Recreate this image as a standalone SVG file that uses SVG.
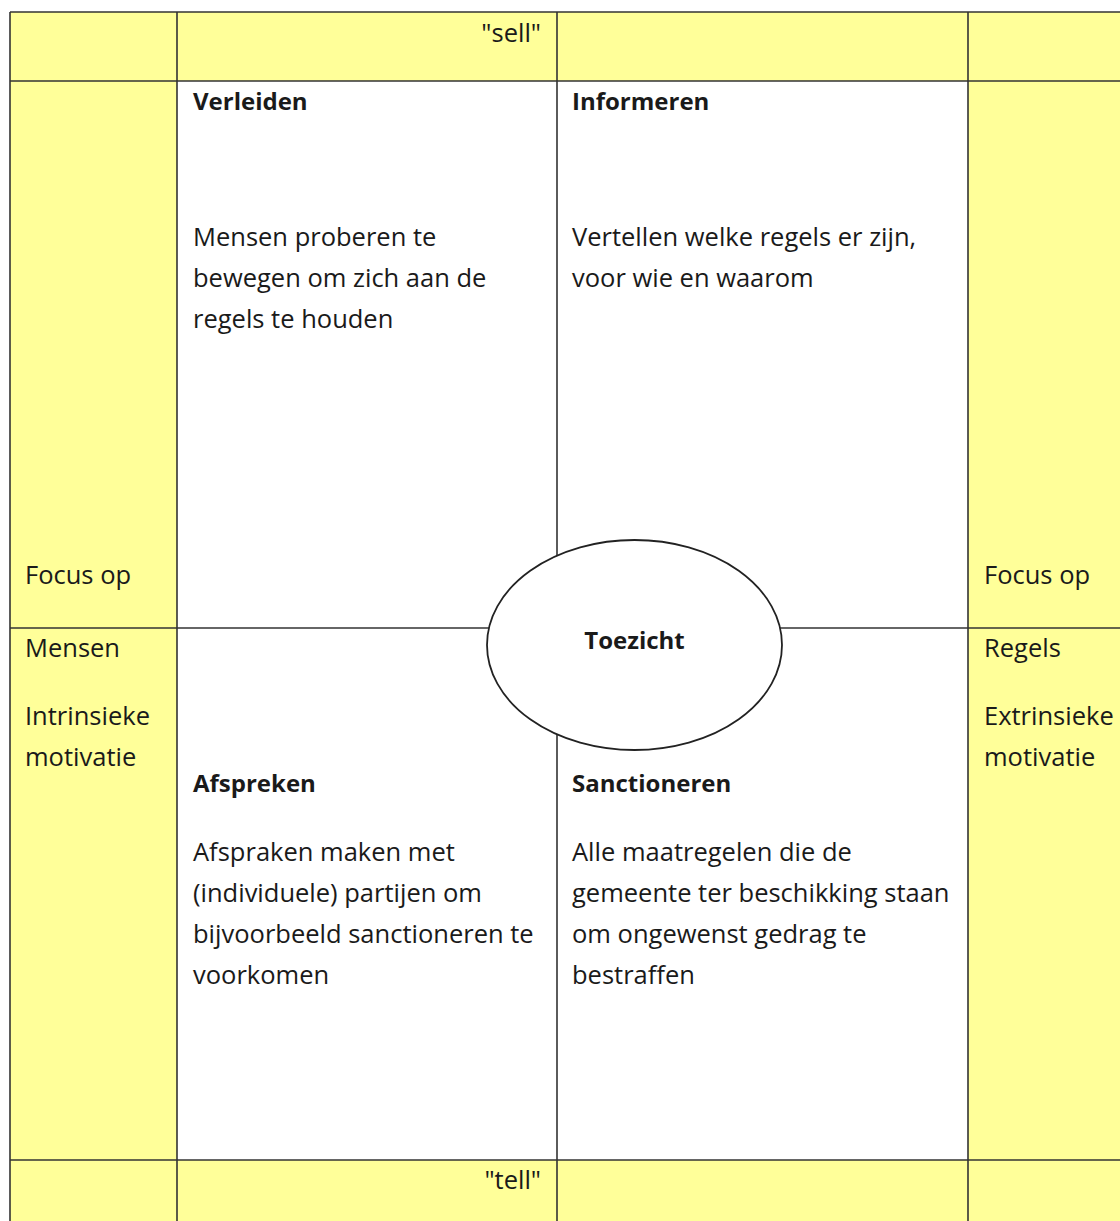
<svg xmlns="http://www.w3.org/2000/svg" width="1120" height="1221" viewBox="0 0 1120 1221">
<style>
.t{font-family:"Open Sans","Liberation Sans",sans-serif;font-size:25.5px;fill:#1a1a1a}
.b{font-weight:bold;font-size:24px}
.ln{stroke:#333;stroke-width:1.6;fill:none}
.y{fill:#FFFF99}
</style>
<rect width="1120" height="1221" fill="#fff"/>
<g id="table">
<rect class="y" x="10" y="12" width="1110" height="69"/>
<rect class="y" x="10" y="1160" width="1110" height="61"/>
<rect class="y" x="10" y="81" width="167" height="1079"/>
<rect class="y" x="968" y="81" width="152" height="1079"/>
<line class="ln" x1="10" y1="12" x2="1120" y2="12"/>
<line class="ln" x1="10" y1="81" x2="1120" y2="81"/>
<line class="ln" x1="10" y1="628" x2="1120" y2="628"/>
<line class="ln" x1="10" y1="1160" x2="1120" y2="1160"/>
<line class="ln" x1="10" y1="12" x2="10" y2="1221"/>
<line class="ln" x1="177" y1="12" x2="177" y2="1221"/>
<line class="ln" x1="557" y1="12" x2="557" y2="1221"/>
<line class="ln" x1="968" y1="12" x2="968" y2="1221"/>
</g>
<g id="sell"><text class="t" x="541" y="42" text-anchor="end">"sell"</text></g>
<g id="tell"><text class="t" x="541" y="1189" text-anchor="end">"tell"</text></g>
<g id="verleiden">
<text class="t b" x="193" y="110">Verleiden</text>
<text class="t" x="193" y="246">Mensen proberen te</text>
<text class="t" x="193" y="287">bewegen om zich aan de</text>
<text class="t" x="193" y="328">regels te houden</text>
</g>
<g id="informeren">
<text class="t b" x="572" y="110">Informeren</text>
<text class="t" x="572" y="246">Vertellen welke regels er zijn,</text>
<text class="t" x="572" y="287">voor wie en waarom</text>
</g>
<g id="afspreken">
<text class="t b" x="193" y="792">Afspreken</text>
<text class="t" x="193" y="861">Afspraken maken met</text>
<text class="t" x="193" y="902">(individuele) partijen om</text>
<text class="t" x="193" y="943">bijvoorbeeld sanctioneren te</text>
<text class="t" x="193" y="984">voorkomen</text>
</g>
<g id="sanctioneren">
<text class="t b" x="572" y="792">Sanctioneren</text>
<text class="t" x="572" y="861">Alle maatregelen die de</text>
<text class="t" x="572" y="902">gemeente ter beschikking staan</text>
<text class="t" x="572" y="943">om ongewenst gedrag te</text>
<text class="t" x="572" y="984">bestraffen</text>
</g>
<g id="mensen">
<text class="t" x="25" y="584">Focus op</text>
<text class="t" x="25" y="657">Mensen</text>
<text class="t" x="25" y="725">Intrinsieke</text>
<text class="t" x="25" y="766">motivatie</text>
</g>
<g id="regels">
<text class="t" x="984" y="584">Focus op</text>
<text class="t" x="984" y="657">Regels</text>
<text class="t" x="984" y="725">Extrinsieke</text>
<text class="t" x="984" y="766">motivatie</text>
</g>
<g id="toezicht">
<ellipse cx="634.5" cy="645" rx="147.5" ry="105" fill="#fff" stroke="#222" stroke-width="1.8"/>
<text class="t b" x="634.5" y="649" text-anchor="middle">Toezicht</text>
</g>
</svg>
